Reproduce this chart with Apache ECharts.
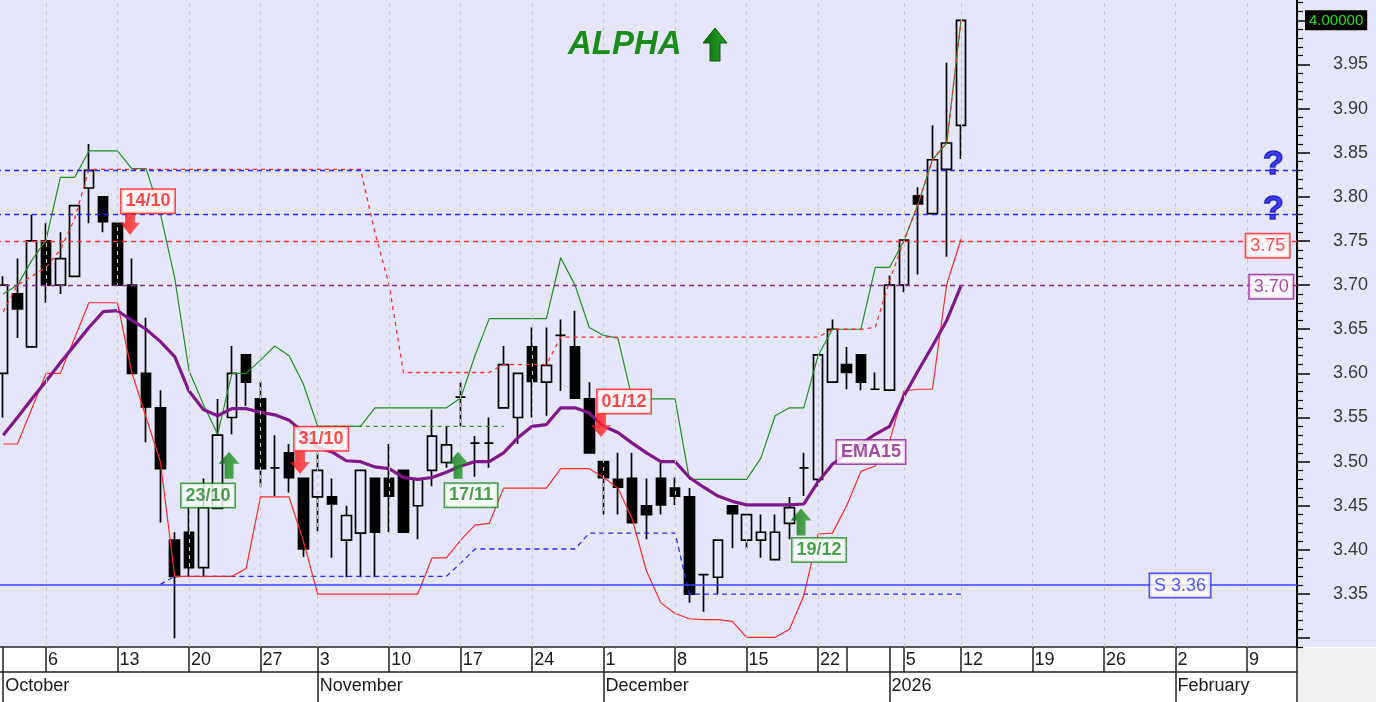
<!DOCTYPE html>
<html><head><meta charset="utf-8">
<script src="https://cdn.jsdelivr.net/npm/echarts@6.0.0/dist/echarts.min.js"></script>
<style>html,body{margin:0;padding:0;background:#fff;overflow:hidden}#c{width:1380px;height:702px;margin-left:-4px}</style>
</head><body><div id="c"></div>
<script>
// ---------- categories ----------
const tradingDates = ['2025-10-01','2025-10-02','2025-10-03','2025-10-06','2025-10-07','2025-10-08','2025-10-09','2025-10-10','2025-10-13','2025-10-14','2025-10-15','2025-10-16','2025-10-17','2025-10-20','2025-10-21','2025-10-22','2025-10-23','2025-10-24','2025-10-27','2025-10-28','2025-10-29','2025-10-31',
'2025-11-03','2025-11-04','2025-11-05','2025-11-06','2025-11-07','2025-11-10','2025-11-11','2025-11-12','2025-11-13','2025-11-14','2025-11-17','2025-11-18','2025-11-19','2025-11-20','2025-11-21','2025-11-24','2025-11-25','2025-11-26','2025-11-27','2025-11-28',
'2025-12-01','2025-12-02','2025-12-03','2025-12-04','2025-12-05','2025-12-08','2025-12-09','2025-12-10','2025-12-11','2025-12-12','2025-12-15','2025-12-16','2025-12-17','2025-12-18','2025-12-19','2025-12-22','2025-12-23','2025-12-29','2025-12-30','2025-12-31',
'2026-01-02','2026-01-05','2026-01-06','2026-01-07','2026-01-08','2026-01-12'];
const futureDates = ['2026-01-13','2026-01-14','2026-01-15','2026-01-16','2026-01-19','2026-01-20','2026-01-21','2026-01-22','2026-01-23','2026-01-26','2026-01-27','2026-01-28','2026-01-29','2026-01-30','2026-02-02','2026-02-03','2026-02-04','2026-02-05','2026-02-06','2026-02-09','2026-02-10','2026-02-11','2026-02-12'];

// ---------- OHLC ----------
const opens  = [3.60,3.69,3.63,3.75,3.70,3.71,3.81,3.80,3.77,3.70, 3.60,3.561,3.411,3.42,3.38,3.447,3.55,3.621,3.571,3.493, 3.51,3.481,3.46,3.46,3.411,3.419,3.481,3.481,3.49,3.45, 3.49,3.499,3.573,3.521,3.521,3.561,3.55,3.63,3.59,3.643, 3.63,3.571,3.50,3.48,3.481,3.45,3.481,3.47,3.46,3.372, 3.369,3.45,3.411,3.411,3.389,3.43,3.493,3.48,3.59,3.61, 3.621,3.582,3.581,3.70,3.801,3.781,3.831,3.881];
const highs  = [3.71,3.73,3.78,3.77,3.76,3.79,3.86,3.80,3.77,3.73, 3.663,3.581,3.42,3.448,3.481,3.571,3.631,3.621,3.591,3.53, 3.52,3.481,3.51,3.481,3.45,3.49,3.481,3.52,3.49,3.48, 3.559,3.54,3.59,3.529,3.55,3.631,3.60,3.652,3.652,3.661, 3.671,3.59,3.50,3.51,3.51,3.481,3.499,3.482,3.47,3.372, 3.411,3.45,3.44,3.44,3.44,3.46,3.51,3.621,3.661,3.63, 3.621,3.601,3.711,3.751,3.811,3.881,3.952,4.00];
const lows   = [3.55,3.64,3.63,3.68,3.69,3.71,3.77,3.76,3.70,3.60, 3.522,3.431,3.30,3.369,3.369,3.447,3.531,3.563,3.471,3.461, 3.465,3.392,3.421,3.391,3.369,3.369,3.369,3.42,3.42,3.412, 3.472,3.493,3.54,3.483,3.493,3.561,3.52,3.55,3.552,3.58, 3.572,3.51,3.44,3.44,3.431,3.412,3.44,3.451,3.34,3.33, 3.35,3.402,3.402,3.391,3.389,3.412,3.461,3.472,3.59,3.582, 3.581,3.582,3.581,3.692,3.712,3.781,3.732,3.843];
const closes = [3.70,3.673,3.75,3.70,3.73,3.79,3.83,3.772,3.70,3.60, 3.562,3.492,3.37,3.38,3.448,3.53,3.60,3.59,3.492,3.493, 3.482,3.401,3.49,3.452,3.439,3.49,3.42,3.461,3.42,3.48, 3.529,3.519,3.573,3.521,3.521,3.61,3.60,3.591,3.609,3.643, 3.572,3.51,3.482,3.471,3.431,3.44,3.451,3.461,3.35,3.372, 3.411,3.441,3.44,3.42,3.42,3.448,3.493,3.621,3.65,3.601, 3.59,3.582,3.70,3.751,3.792,3.842,3.861,4.00];

// ---------- indicator lines ----------
const ema15 = [3.530,3.550,3.571,3.591,3.612,3.632,3.652,3.670,3.671,3.660, 3.650,3.636,3.619,3.580,3.559,3.552,3.560,3.560,3.556,3.553, 3.547,3.533,3.516,3.511,3.501,3.500,3.494,3.492,3.482,3.480, 3.482,3.488,3.495,3.500,3.500,3.510,3.527,3.540,3.542,3.561, 3.561,3.555,3.540,3.533,3.521,3.510,3.500,3.500,3.482,3.471, 3.461,3.455,3.451,3.451,3.451,3.451,3.452,3.477,3.497,3.509, 3.520,3.531,3.540,3.574,3.603,3.631,3.660,3.699];
const upperBand = [3.690,3.700,3.728,3.751,3.822,3.822,3.852,3.852,3.852,3.832, 3.832,3.781,3.708,3.603,3.565,3.531,3.600,3.600,3.615,3.631, 3.620,3.588,3.540,3.540,3.540,3.540,3.561,3.561,3.561,3.561, 3.561,3.561,3.572,3.620,3.662,3.662,3.662,3.662,3.662,3.731, 3.700,3.652,3.643,3.640,3.571,3.571,3.571,3.571,3.480,3.480, 3.480,3.480,3.480,3.504,3.552,3.561,3.561,3.620,3.650,3.650, 3.650,3.720,3.720,3.750,3.792,3.842,3.861,4.000];
const lowerBand = [3.520,3.520,3.560,3.600,3.600,3.640,3.680,3.680,3.680,3.601, 3.550,3.500,3.370,3.370,3.370,3.370,3.370,3.379,3.460,3.460, 3.460,3.410,3.350,3.350,3.350,3.350,3.350,3.350,3.350,3.350, 3.391,3.391,3.411,3.428,3.430,3.470,3.470,3.470,3.470,3.492, 3.492,3.492,3.482,3.470,3.435,3.376,3.340,3.328,3.322,3.321, 3.321,3.319,3.301,3.301,3.301,3.310,3.348,3.418,3.419,3.450, 3.489,3.495,3.523,3.580,3.582,3.582,3.701,3.752];
const stopDashed = [3.670,3.700,3.710,3.720,3.740,3.775,3.831,3.831,3.831,3.831, 3.831,3.831,3.831,3.831,3.831,3.831,3.831,3.831,3.831,3.831, 3.831,3.831,3.831,3.831,3.831,3.831,3.760,3.700,3.601,3.601, 3.601,3.601,3.601,3.601,3.601,3.610,3.610,3.610,3.610,3.641, 3.641,3.641,3.641,3.641,3.641,3.641,3.641,3.641,3.641,3.641, 3.641,3.641,3.641,3.641,3.641,3.641,3.641,3.641,3.650,3.650, 3.650,3.652,3.705,3.750,3.792,3.842,3.861,4.000];
const greenDashed = [null,null,null,null,null,null,null,null,null,null, null,null,null,null,null,null,null,null,null,null, null,null,3.540,3.540,3.540,3.540,3.540,3.540,3.540,3.540, 3.540,3.540,3.540,3.540,3.540,3.540,null,null,null,null, null,null,null,null,null,null,null,null,null,null, null,null,null,null,null,null,null,null,null,null, null,null,null,null,null,null,null,null];
const blueDashed = [null,null,null,null,null,null,null,null,null,null, null,3.361,3.370,3.370,3.370,3.370,3.370,3.370,3.370,3.370, 3.370,3.370,3.370,3.370,3.370,3.370,3.370,3.370,3.370,3.370, 3.370,3.370,3.385,3.401,3.401,3.401,3.401,3.401,3.401,3.401, 3.401,3.419,3.419,3.419,3.419,3.419,3.419,3.419,3.350,3.350, 3.350,3.350,3.350,3.350,3.350,3.350,3.350,3.350,3.350,3.350, 3.350,3.350,3.350,3.350,3.350,3.350,3.350,3.350];

// ---------- axis labels ----------
const weekTickIdx    = [0, 3, 8, 13, 18, 22, 27, 32, 37, 42, 47, 52, 57, 59, 62, 63, 67, 72, 77, 82, 87];
const weekTickLabels = ['', '6','13','20','27','3','10','17','24','1','8','15','22','', '', '5','12','19','26','2','9'];
const monthTickIdx    = [0, 22, 42, 62, 82];
const monthTickLabels = ['October','November','December','2026','February'];
const yLabelValues = [3.35,3.40,3.45,3.50,3.55,3.60,3.65,3.70,3.75,3.80,3.85,3.90,3.95];
const yMajorTicks  = [3.30,3.35,3.40,3.45,3.50,3.55,3.60,3.65,3.70,3.75,3.80,3.85,3.90,3.95,4.00];
const lastPrice = 4.00;

// ---------- horizontal levels & annotations ----------
const levelValues = [3.83, 3.78, 3.75, 3.70, 3.36];
const levelColors = ['#2626ff','#2626ff','#ff3030','#8e2a8e','#3344ff'];
const levelTypes  = ['dashed','dashed','dashed','dashed','solid'];
const sellDates = ['14/10','31/10','01/12'];
const sellLabelPos = [[10.13,3.795],[22.24,3.526],[43.43,3.568]];
const sellArrowPos = [[8.88,3.770],[20.77,3.499],[41.82,3.541]];
const buyDates = ['23/10','17/11','19/12'];
const buyLabelPos = [[14.33,3.4615],[32.73,3.462],[57.07,3.400]];
const buyArrowPos = [[15.80,3.496],[31.82,3.496],[55.81,3.4315]];
const boxTexts  = ['EMA15','S 3.36','3.75','3.70'];
const boxPos    = [[60.70,3.511],[82.32,3.3596],[88.45,3.7445],[88.70,3.698]];
const boxColors = ['#8e1f8e','#2a2aff','#ff2020','#8e1f8e'];
const questionPos = [[88.85,3.837],[88.85,3.7855]];

const allDates = tradingDates.concat(futureDates);
const candles = opens.map((o,i)=>[o, closes[i], lows[i], highs[i]]);
const gridIdx = weekTickIdx.filter((v,i)=>weekTickLabels[i] !== '');
const FONT = 'Liberation Sans';
const downArrow = 'path://M5,0 L15,0 L15,11 L20,11 L10,23 L0,11 L5,11 Z';
const upArrow = 'path://M10.5,0 L21,12 L15,12 L15,27 L6,27 L6,12 L0,12 Z';

const minorTicks = [];
for (let k = 329; k <= 402; k++) { if (k % 5 !== 0) minorTicks.push(k/100); }

const chart = echarts.init(document.getElementById('c'), null, {renderer:'canvas'});
const boxLabel = (txt, col, size, bold) => ({show:true, position:'inside', formatter:txt, color:col,
  fontSize:size, fontWeight: bold ? 'bold' : 'normal', fontFamily:FONT, backgroundColor:'#ffffff',
  borderColor:col, borderWidth:1.5, padding:[3,4,1,4], lineHeight:19});
const G = {left:0, right:79, top:0, bottom:55};
const YR = {min:3.29, max:4.023};
const greenGrad = new echarts.graphic.LinearGradient(0,0,1,0,[{offset:0,color:'#0c5f0c'},{offset:0.5,color:'#1c8a1c'},{offset:1,color:'#2aa02a'}]);
const redGrad = new echarts.graphic.LinearGradient(0,0,1,0,[{offset:0,color:'#d81010'},{offset:0.5,color:'#ff2020'},{offset:1,color:'#ff4a4a'}]);

chart.setOption({
  animation:false,
  backgroundColor:'#ffffff',
  textStyle:{fontFamily:FONT},
  title:{text:'ALPHA', left:567, top:23, textStyle:{fontFamily:FONT, fontSize:33, fontStyle:'italic', fontWeight:'bold', color:'#1b8c1b'}},
  graphic:[
    {type:'rect', z:-10, silent:true, shape:{x:1301, y:0, width:79, height:647}, style:{fill:'#e6e6fa'}},
    {type:'rect', z:-10, silent:true, shape:{x:1302, y:648, width:78, height:54}, style:{fill:'#f0f0f0'}},
    {type:'line', z:5, silent:true, shape:{x1:1301, y1:647, x2:1301, y2:702}, style:{stroke:'#222', lineWidth:1.5}},
    {type:'polygon', z:5, silent:true, shape:{points:[[719,28],[731,43],[724,43],[724,61],[714,61],[714,43],[707,43]]}, style:{fill:greenGrad, stroke:'#0d5a0d', lineWidth:1}}
  ],
  grid:[
    Object.assign({show:true, backgroundColor:'#e6e6fa', borderWidth:0}, G),
    Object.assign({show:false}, G),
    Object.assign({show:false}, G)
  ],
  xAxis:[
    {type:'category', gridIndex:0, data:allDates, boundaryGap:true, position:'bottom', offset:0,
     axisLine:{show:true, onZero:false, lineStyle:{color:'#222', width:1.5}},
     axisTick:{show:true, alignWithLabel:true, length:25, interval:(i)=>weekTickIdx.includes(i), lineStyle:{color:'#222', width:1.5}},
     axisLabel:{show:true, interval:(i)=>weekTickIdx.includes(i), formatter:(v,i)=>weekTickLabels[weekTickIdx.indexOf(i)] || '',
       align:'left', padding:[0,0,0,2], margin:4, fontSize:18, color:'#1a1a1a', fontFamily:FONT},
     splitLine:{show:false}},
    {type:'category', gridIndex:0, data:allDates, boundaryGap:true, position:'bottom', offset:25,
     axisLine:{show:true, onZero:false, lineStyle:{color:'#222', width:1.5}},
     axisTick:{show:true, alignWithLabel:true, length:32, interval:(i)=>monthTickIdx.includes(i), lineStyle:{color:'#222', width:1.5}},
     axisLabel:{show:true, interval:(i)=>monthTickIdx.includes(i), formatter:(v,i)=>monthTickLabels[monthTickIdx.indexOf(i)] || '',
       align:'left', padding:[0,0,0,2], margin:5, fontSize:18, color:'#1a1a1a', fontFamily:FONT},
     splitLine:{show:false}},
    {type:'value', gridIndex:0, min:-0.5, max:90.5, show:false, splitLine:{show:false}},
    {type:'value', gridIndex:1, min:-0.5, max:90.5, show:false, splitLine:{show:false}},
    {type:'value', gridIndex:2, min:-0.5, max:90.5, show:false, splitLine:{show:false}}
  ],
  yAxis:[
    Object.assign({type:'value', gridIndex:0, position:'right',
     axisLine:{show:true, onZero:false, lineStyle:{color:'#000', width:2}},
     axisTick:{show:true, customValues:yMajorTicks, length:13, lineStyle:{color:'#000', width:1.5}},
     axisLabel:{show:true, customValues:yLabelValues, formatter:(v)=>v.toFixed(2), margin:36, fontSize:18, color:'#3a3a3a', fontFamily:FONT},
     splitLine:{show:false}}, YR),
    Object.assign({type:'value', gridIndex:1, position:'right',
     axisLine:{show:false, onZero:false},
     axisTick:{show:true, customValues:minorTicks, length:6, lineStyle:{color:'#000', width:1.2}},
     axisLabel:{show:false}, splitLine:{show:false}}, YR),
    Object.assign({type:'value', gridIndex:2, position:'right',
     axisLine:{show:false, onZero:false}, axisTick:{show:false},
     axisLabel:{show:true, customValues:[lastPrice], margin:8, formatter:(v)=>'{last|'+v.toFixed(5)+'}',
       rich:{last:{backgroundColor:'#000', color:'#22e022', fontSize:15, fontFamily:FONT, padding:[3,4,2,4]}}},
     splitLine:{show:false}}, YR)
  ],
  series:[
    {type:'scatter', name:'guides', xAxisIndex:2, yAxisIndex:0, data:[], z:1, silent:true,
     markLine:{symbol:'none', silent:true, animation:false, label:{show:false},
       data: gridIdx.map(i=>({xAxis:i, lineStyle:{color:'#c6c6c6', type:[4,4], width:1}}))
         .concat(levelValues.map((v,k)=>({yAxis:v, lineStyle:{color:levelColors[k], type: levelTypes[k]==='solid' ? 'solid' : [5,4], width: levelTypes[k]==='solid' ? 1.6 : 1.3}})))}},
    {type:'candlestick', name:'ALPHA', xAxisIndex:0, yAxisIndex:0, data:candles, barWidth:10, z:2,
     itemStyle:{color:'#e6e6fa', color0:'#000', borderColor:'#000', borderColor0:'#000', borderWidth:1.7}},
    {type:'line', name:'greenDashed', xAxisIndex:0, data:greenDashed, symbol:'none', z:3, lineStyle:{color:'#1f8f1f', width:1.2, type:[4,4]}},
    {type:'line', name:'blueDashed', xAxisIndex:0, data:blueDashed, symbol:'none', z:3, lineStyle:{color:'#2626ff', width:1.3, type:[5,4]}},
    {type:'line', name:'upper', xAxisIndex:0, data:upperBand, symbol:'none', z:3, lineStyle:{color:'#1f8f1f', width:1.2}},
    {type:'line', name:'lower', xAxisIndex:0, data:lowerBand, symbol:'none', z:3, lineStyle:{color:'#ff2a2a', width:1.2}},
    {type:'line', name:'stop', xAxisIndex:0, data:stopDashed, symbol:'none', z:3, lineStyle:{color:'#ff2a2a', width:1.3, type:[4,4]}},
    {type:'line', name:'EMA15', xAxisIndex:0, data:ema15, symbol:'none', z:4, lineStyle:{color:'#80188a', width:3.2}},
    {type:'scatter', name:'sellArrows', xAxisIndex:2, yAxisIndex:0, z:8, silent:true,
     symbol:downArrow, symbolSize:[20,23], itemStyle:{color:redGrad}, data:sellArrowPos},
    {type:'scatter', name:'buyArrows', xAxisIndex:2, yAxisIndex:0, z:8, silent:true,
     symbol:upArrow, symbolSize:[21,27], itemStyle:{color:greenGrad}, data:buyArrowPos},
    {type:'scatter', name:'labels', xAxisIndex:2, yAxisIndex:0, z:9, silent:true, symbolSize:1, itemStyle:{color:'rgba(0,0,0,0)'},
     data: sellDates.map((t,k)=>({value:sellLabelPos[k], label:boxLabel(t,'#ff1c1c',18,true)}))
       .concat(buyDates.map((t,k)=>({value:buyLabelPos[k], label:boxLabel(t,'#1d8a1d',18,true)})))
       .concat(boxTexts.map((t,k)=>({value:boxPos[k], label:boxLabel(t,boxColors[k], 18, k===0)})))
       .concat(questionPos.map(p=>({value:p, label:{show:true, position:'inside', formatter:'?', color:'#1414f0', fontSize:34, fontWeight:'bold', fontFamily:FONT, textBorderColor:'#0a0a90', textBorderWidth:1.5}})))}
  ]
});
</script></body></html>
